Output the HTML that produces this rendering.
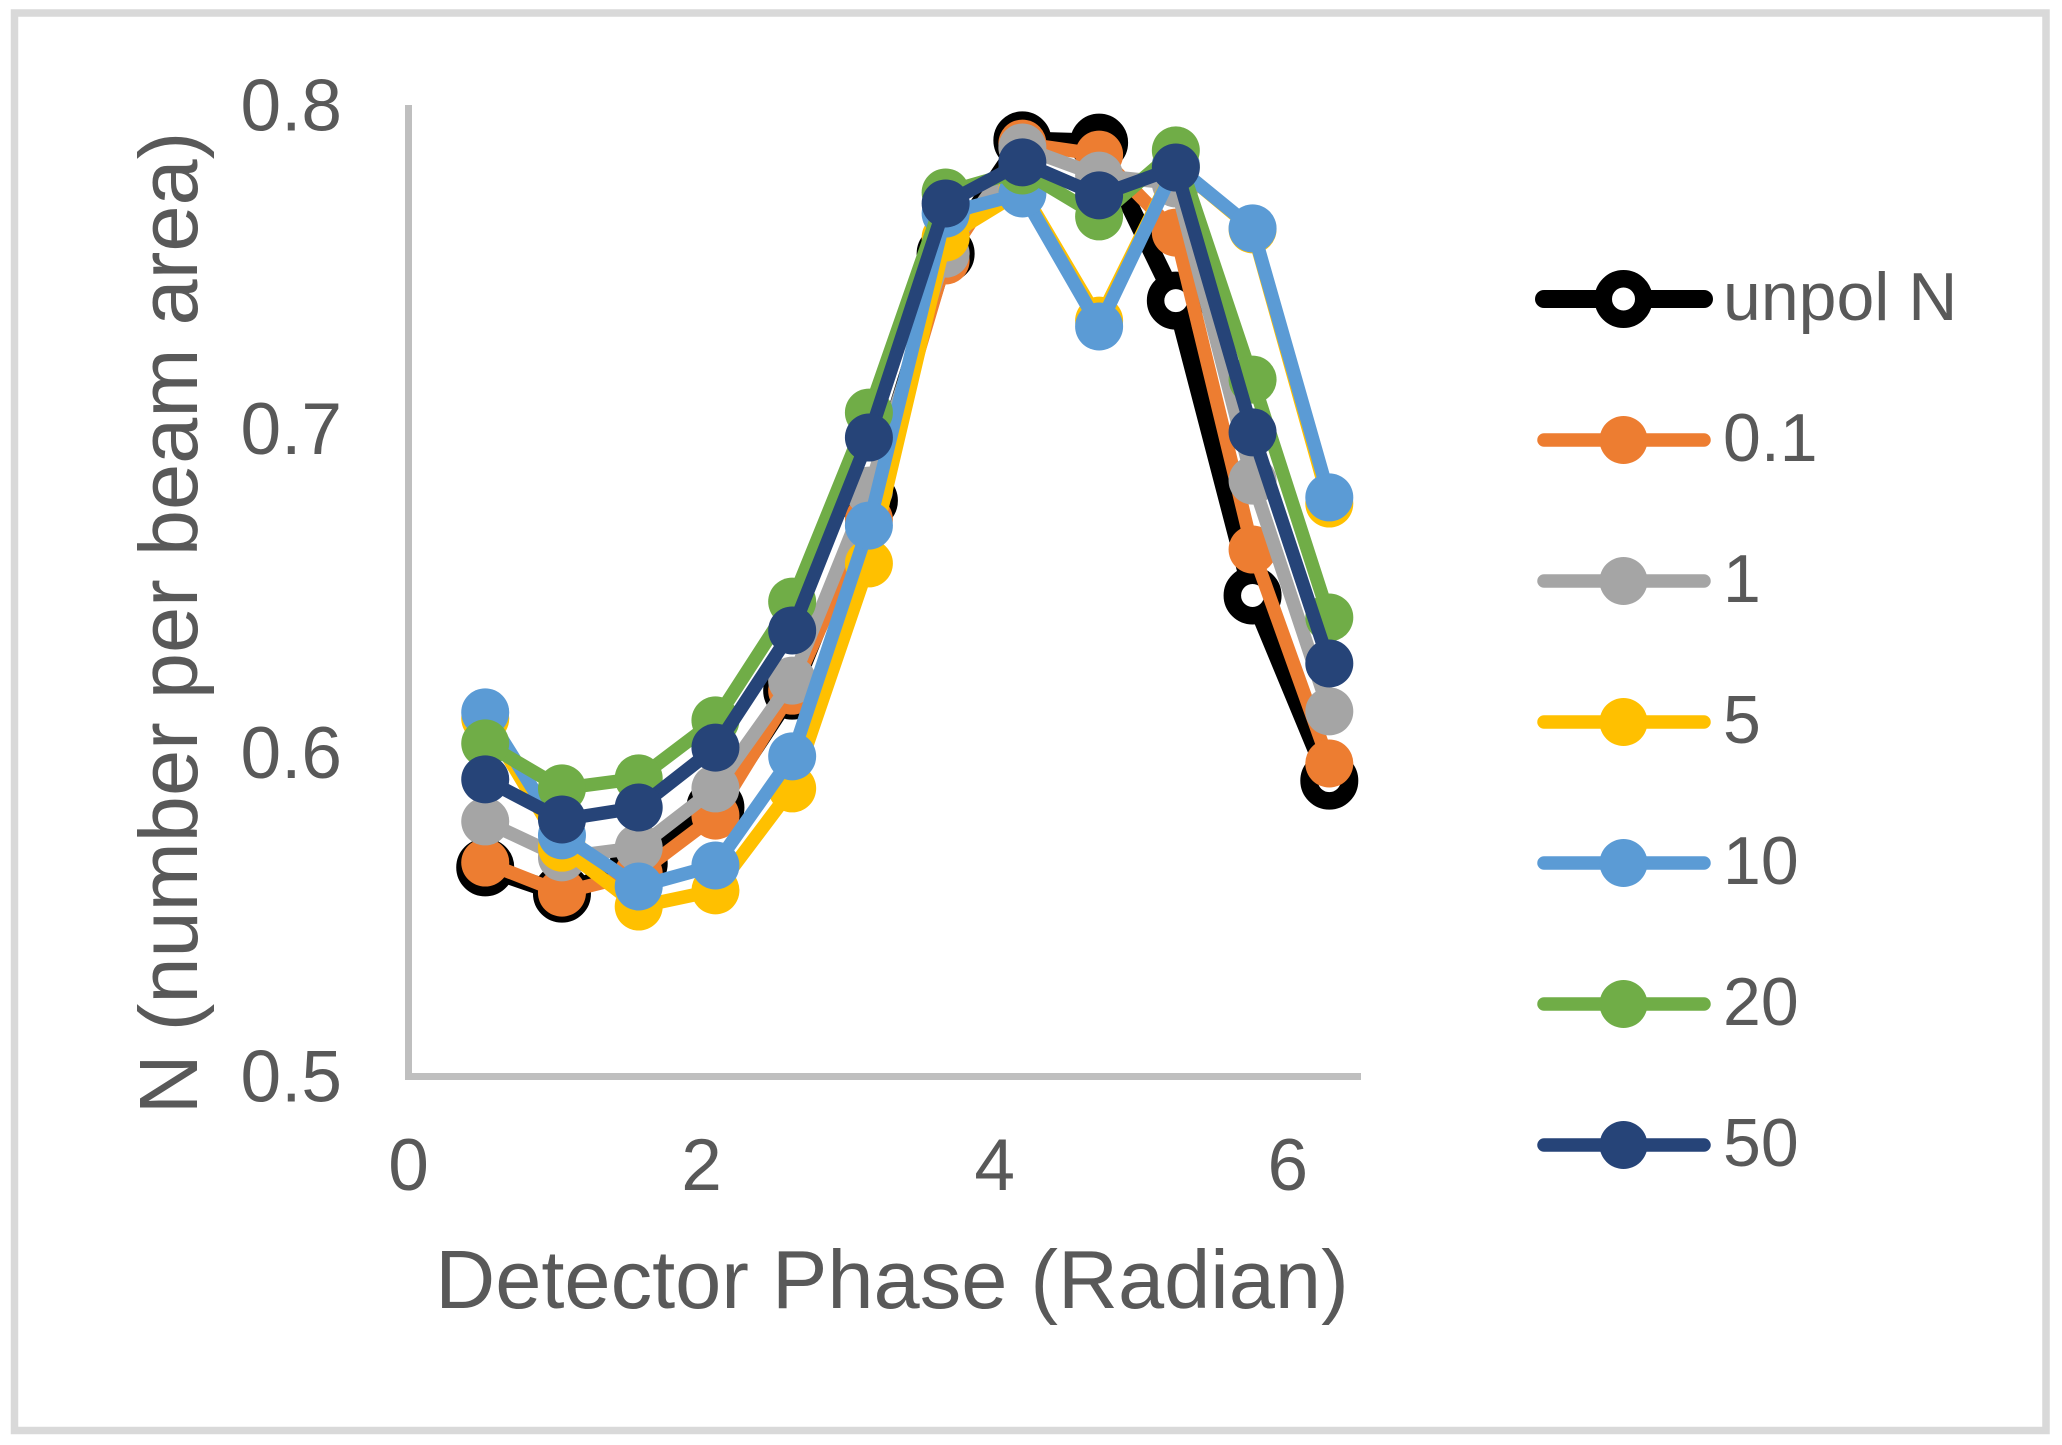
<!DOCTYPE html>
<html lang="en">
<head>
<meta charset="utf-8">
<title>N vs Detector Phase</title>
<style>
html,body{margin:0;padding:0;background:#fff;width:2062px;height:1445px;overflow:hidden}
svg{display:block}
text{font-family:"Liberation Sans",sans-serif;fill:#595959}
</style>
</head>
<body>
<svg id="chart" xmlns="http://www.w3.org/2000/svg" width="2062" height="1445" viewBox="0 0 2062 1445">
<rect x="14.5" y="13" width="2031.5" height="1417.5" fill="#fff" stroke="#d9d9d9" stroke-width="7.5"/>
<g id="axes"></g>
<g id="series"></g>
<g id="legend"></g>
<text x="892" y="1308" font-size="83" text-anchor="middle">Detector Phase (Radian)</text>
<text transform="translate(197,623) rotate(-90)" font-size="83" text-anchor="middle">N (number per beam area)</text>
</svg>
<script>
const phases = [0.5236, 1.0472, 1.5708, 2.0944, 2.6180, 3.1416, 3.6652, 4.1888, 4.7124, 5.2360, 5.7596, 6.2832];
const unpolValues = [0.5646, 0.5565, 0.5658, 0.5831, 0.6192, 0.6779, 0.7542, 0.7892, 0.7885, 0.7397, 0.6486, 0.5914];
const pol01Values = [0.5661, 0.5568, 0.5627, 0.5806, 0.6192, 0.6721, 0.7521, 0.7882, 0.7848, 0.7607, 0.6628, 0.5967];
const pol1Values = [0.5788, 0.5677, 0.5707, 0.5890, 0.6223, 0.6810, 0.7542, 0.7870, 0.7783, 0.7759, 0.6841, 0.6128];
const pol5Values = [0.6106, 0.5707, 0.5525, 0.5575, 0.5890, 0.6585, 0.7592, 0.7737, 0.7335, 0.7814, 0.7617, 0.6770];
const pol10Values = [0.6125, 0.5745, 0.5587, 0.5652, 0.5989, 0.6702, 0.7666, 0.7728, 0.7317, 0.7814, 0.7620, 0.6789];
const pol20Values = [0.6029, 0.5890, 0.5921, 0.6100, 0.6467, 0.7051, 0.7731, 0.7799, 0.7657, 0.7861, 0.7153, 0.6418];
const pol50Values = [0.5918, 0.5794, 0.5831, 0.6016, 0.6378, 0.6974, 0.7697, 0.7824, 0.7722, 0.7808, 0.6990, 0.6276];
const seriesLabels = ['unpol N', '0.1', '1', '5', '10', '20', '50'];
const xTickValues = [0, 2, 4, 6];
const yTickValues = [0.5, 0.6, 0.7, 0.8];

const NS = 'http://www.w3.org/2000/svg';
const seriesValues = [unpolValues, pol01Values, pol1Values, pol5Values, pol10Values, pol20Values, pol50Values];
const seriesColors = ['#000000', '#ed7d31', '#a5a5a5', '#ffc000', '#5b9bd5', '#70ad47', '#264478'];

function xScale(v) { return 408.5 + v * 146.55; }
function yScale(v) { return 1076.5 - (v - 0.5) * 3237; }

function make(tag, attrs, parent) {
  const el = document.createElementNS(NS, tag);
  for (const k in attrs) el.setAttribute(k, attrs[k]);
  parent.appendChild(el);
  return el;
}

const axesG = document.getElementById('axes');
const seriesG = document.getElementById('series');
const legendG = document.getElementById('legend');

const yAxis = make('line', {x1: 408.5, y1: 105, x2: 408.5, y2: 1080, stroke: '#bfbfbf', 'stroke-width': 7}, axesG);


const xAxis = make('line', {x1: 405, y1: 1076.5, x2: 1361, y2: 1076.5, stroke: '#bfbfbf', 'stroke-width': 7}, axesG);



yTickValues.forEach(function (t) {
  const label = make('text', {x: 342, y: yScale(t) + 25, 'font-size': 73, 'text-anchor': 'end'}, axesG);
  label.textContent = t.toFixed(1);
  
  
});
xTickValues.forEach(function (t) {
  const label = make('text', {x: xScale(t), y: 1190, 'font-size': 73, 'text-anchor': 'middle'}, axesG);
  label.textContent = String(t);
  
  
});

function drawMarker(parent, cx, cy, i) {
  const hollow = i === 0;
  const m = make('circle', {
    cx: cx, cy: cy,
    r: hollow ? 20.25 : 24,
    fill: hollow ? '#ffffff' : seriesColors[i],
    stroke: hollow ? '#000000' : 'none',
    'stroke-width': hollow ? 17.5 : 0
  }, parent);
  return m;
}

seriesValues.forEach(function (vals, i) {
  const g = make('g', {}, seriesG);
  
  
  const pts = vals.map(function (v, j) { return xScale(phases[j]).toFixed(1) + ',' + yScale(v).toFixed(1); }).join(' ');
  const line = make('polyline', {
    points: pts, fill: 'none', stroke: seriesColors[i],
    'stroke-width': i === 0 ? 18 : 13.5,
    'stroke-linejoin': 'round', 'stroke-linecap': 'round'
  }, g);
  
  
  vals.forEach(function (v, j) {
    const m = drawMarker(g, xScale(phases[j]), yScale(v), i);
    
    
  });
});

seriesLabels.forEach(function (name, i) {
  const cy = 299 + i * 141;
  const g = make('g', {}, legendG);
  
  
  const line = make('line', {
    x1: 1544, y1: cy, x2: 1704, y2: cy,
    stroke: seriesColors[i], 'stroke-width': i === 0 ? 18 : 13.5, 'stroke-linecap': 'round'
  }, g);
  
  
  const m = drawMarker(g, 1623.5, cy, i);
  
  
  const label = make('text', {x: 1723, y: cy + 21, 'font-size': 68}, g);
  label.textContent = name;
  
  
});
</script>
</body>
</html>
